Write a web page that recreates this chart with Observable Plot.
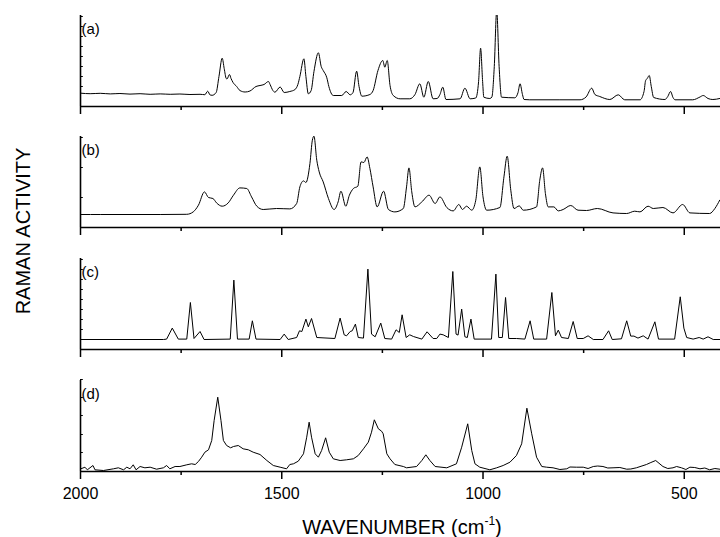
<!DOCTYPE html>
<html>
<head>
<meta charset="utf-8">
<script src="https://cdn.jsdelivr.net/npm/d3@7"></script>
<script src="https://cdn.jsdelivr.net/npm/@observablehq/plot@0.6"></script>
<style>
  html, body { margin: 0; padding: 0; background: #fff; }
  body { width: 720px; height: 537px; overflow: hidden; position: relative;
         font-family: "Liberation Sans", Arial, sans-serif; color: #000; }
  .panel { position: absolute; left: 0; }
  #ytitle { position: absolute; left: 23px; top: 231px; transform: translate(-50%, -50%) rotate(-90deg);
            font-size: 20px; line-height: 20px; white-space: nowrap; }
  #xtitle { position: absolute; left: 402px; top: 517px; transform: translateX(-50%);
            font-size: 20px; line-height: 20px; white-space: nowrap; }
  #xtitle sup { font-size: 12px; vertical-align: baseline; position: relative; top: -9px; }
</style>
</head>
<body>
<div id="chart"></div>
<div id="ytitle">RAMAN ACTIVITY</div>
<div id="xtitle">WAVENUMBER (cm<sup>-1</sup>)</div>
<script>
// ---- data (wavenumber in cm^-1, intensity in arbitrary units) ----
const panelLabels = ["(a)", "(b)", "(c)", "(d)"];
const majorTicks = [2000, 1500, 1000, 500];
const minorTicks = [1750, 1250, 750];
const tickLabels = ["2000", "1500", "1000", "500"];

const aWave = [1999,1976,1951,1926,1902,1877,1852,1827,1802,1777,1753,1728,1703,1691,1684,1678,1673,1663,1656,1648,1643,1638,1636,1630,1626,1621,1612,1604,1591,1579,1564,1554,1544,1533,1529,1522,1517,1504,1494,1480,1467,1460,1455,1445,1440,1434,1427,1420,1409,1402,1397,1388,1383,1372,1351,1340,1330,1323,1314,1308,1301,1281,1273,1261,1249,1244,1238,1231,1223,1206,1182,1169,1157,1147,1136,1124,1114,1107,1100,1092,1057,1045,1032,1018,1011,1006,1001,998,983,978,972,966,960,954,921,913,908,902,898,884,809,759,744,730,722,710,685,664,648,610,600,596,592,587,582,576,548,541,534,528,523,479,461,453,441,429,412];
const aInt  = [13.3,12.8,13.2,12.6,13.0,12.4,12.8,12.2,12.6,12.2,12.5,12.0,12.2,11.8,15.3,11.5,11.2,14,30,48.3,38,28,27.5,32,28,24,20,16,14.5,15.5,20,21,22,25,22,16,14.3,19.5,14,15,17,22,30,47.7,30,12.7,16,35,53.7,40,36,28.7,20,11,11,15,11.7,14,35.3,20,10.3,12,16,36,46,39.3,46,21,11,7.7,7.7,12,22.7,9.3,25,7.7,8,12,19.3,7,7.7,18.3,7.7,8.5,25,58.3,25,9.3,8,9.5,40,96,40,9.3,8.7,14,22.7,12,7,6.7,6.7,6.7,9.5,18.3,12,10,7,11.7,6.7,6.7,15,26,28,31,20,9,7,10,15,9,6.7,6.7,9.5,11,8,7,8];

const bWave = [1999,1951,1877,1802,1736,1720,1707,1692,1682,1671,1662,1648,1633,1620,1604,1587,1575,1562,1546,1513,1480,1463,1455,1446,1440,1430,1424,1420,1413,1407,1397,1384,1370,1360,1353,1341,1332,1322,1311,1303,1296,1288,1281,1273,1263,1247,1235,1219,1198,1190,1184,1177,1169,1152,1134,1119,1107,1090,1074,1060,1051,1041,1028,1018,1008,1000,991,958,948,940,931,923,910,900,867,859,852,845,838,824,813,801,782,764,743,716,677,643,623,610,590,577,553,528,504,486,437,424,412];
const bInt  = [13,13,13,13,13.2,15.6,22.3,35.6,30,29,24.6,21.3,24.6,32.3,39.6,39,30.6,21.3,18,19,18.6,24,40.6,46.6,45,64,87.3,91.3,67.3,55.6,45.6,29,18,25.6,36.3,21.3,32.3,39,41.3,65.6,65,70.6,59,40.6,20.6,36.3,18,15.6,19,40.6,59.6,35.6,20.6,25.6,32.3,24,30.6,20,16.6,23,18,21.3,17.3,27.3,60.6,30.6,17.3,20,50.6,71.3,37.3,19,21.6,17.3,20.6,47.3,59.6,34,20.6,20.6,16.6,18,22,17.3,17,19,14.6,14,16.3,15.6,21.3,19,20,14.6,23,14.6,14,19,27.3];

const cWave = [1999,1794,1786,1772,1757,1736,1727,1718,1703,1693,1628,1619,1610,1581,1573,1564,1504,1494,1484,1463,1456,1450,1440,1434,1426,1413,1368,1355,1345,1339,1330,1325,1317,1310,1297,1286,1277,1268,1254,1244,1227,1216,1208,1201,1191,1182,1173,1152,1139,1124,1115,1107,1099,1086,1075,1067,1062,1053,1045,1039,1030,1022,979,968,961,952,944,936,917,896,883,874,842,829,820,813,805,788,776,766,751,739,726,702,688,679,656,643,633,625,615,602,590,573,564,524,510,501,494,478,463,453,441,428,412];
const cInt  = [10,10,10.4,21.4,10.4,10.4,47,11,18,10,10.4,69.4,10.4,10.4,28.7,10.4,10,15.4,10,12,18.7,18,30.4,22.7,31,12,11,31.4,14.7,13.7,18,18.7,25.4,12,11.4,80.4,15.4,12.7,26.4,11,10.4,19.7,17,34.7,12,14.7,13,10.4,17.7,11,11,15.4,14.7,12,78,15.4,14.4,40.4,12.7,12,30.4,10.4,10.4,75.4,12,12,52,11,11,10.4,28.7,10.4,10.4,57,13.7,19.4,12,11,28,11,11,13.7,10,10,18.7,10,10.7,28.7,13.4,13.4,11.4,13.7,10.4,27.7,10.4,10.4,52.7,21.4,12,10.4,12,10.4,12.7,10,10];

const dWave = [1999,1989,1983,1969,1964,1943,1918,1906,1893,1885,1877,1869,1862,1852,1840,1827,1811,1794,1786,1778,1765,1753,1736,1724,1715,1707,1699,1691,1682,1674,1668,1659,1651,1645,1637,1627,1620,1608,1596,1583,1571,1554,1537,1521,1504,1488,1480,1471,1459,1446,1438,1432,1426,1417,1409,1401,1391,1382,1372,1355,1339,1322,1310,1297,1285,1277,1270,1260,1252,1248,1239,1231,1219,1198,1190,1165,1152,1142,1132,1119,1090,1066,1053,1038,1028,1020,1008,983,966,950,933,917,904,891,879,867,854,842,826,809,792,784,768,751,739,726,715,702,690,677,660,643,633,619,594,583,571,553,541,528,519,507,496,486,474,461,449,437,424,412];
const dInt  = [2.7,4.3,1.7,6,1.7,1,2.7,3.7,1.7,4.3,2.7,6.7,1.7,5,3.7,4.3,2.3,3.7,6,2.7,5,5,6.7,7.7,7,10,14.3,19.3,21.7,31,51,74.3,51,31,26,23.7,25,26,22.7,21.7,19.3,17,11,6,4.3,2.7,7,7.7,10.3,17.7,34.3,49.3,34.3,17.7,14.3,21,33.7,19.3,12.7,11,11.7,12.7,16,22.7,29.3,39.3,51.7,42.7,40.3,37.7,17.7,12.7,7,5,3.7,5,11,16.7,11,5,3.7,7.7,24.3,47.7,21,7.7,4.3,1.7,3.7,6,9.3,16,27.7,63.3,37.7,14.3,5,4.3,3.7,2,2.7,4.5,4.3,4.3,3,5,5.5,5,3.5,3.7,4,2.3,2.5,3.7,7,9,11,5,3,3.7,5,3.7,2,4.3,4,2.7,3.5,1.7,3,2.3];

const yTicksA = [20, 30, 40, 50, 60, 70, 80, 90];
const yTicksB = [30, 60, 90];
const yTicksC = [20, 30, 40, 50, 60, 70, 80, 90];
const yTicksD = [19, 37, 56, 74, 92];

// ---- drawing ----
const FONT = '"Liberation Sans", Arial, sans-serif';

function panel(wave, vals, label, yTicks, curve, last) {
  const data = wave.map((w, i) => ({w, v: vals[i]}));
  return Plot.plot({
    width: 720,
    height: last ? 146 : 121,
    marginLeft: 80, marginRight: 0, marginTop: 15, marginBottom: last ? 40 : 15,
    style: {fontFamily: FONT, fontSize: "16px", color: "black", background: "transparent", overflow: "visible"},
    x: {
      domain: [2000, 410],
      axis: last ? "bottom" : null,
      ticks: majorTicks,
      tickSize: 0,
      tickPadding: 16,
      tickFormat: d => tickLabels[majorTicks.indexOf(d)],
      label: null
    },
    y: {domain: [0, 91], axis: null},
    marks: [
      Plot.ruleY(yTicks, {x1: 2000, x2: 1993, stroke: "black", strokeWidth: 1}),
      Plot.ruleX(majorTicks, {y1: 0, y2: -8, stroke: "black", strokeWidth: 1.5}),
      Plot.ruleX(minorTicks, {y1: 0, y2: -4, stroke: "black", strokeWidth: 1.5}),
      Plot.line(data, {x: "w", y: "v", curve, stroke: "black", strokeWidth: 1, clip: true}),
      Plot.ruleY([0], {stroke: "black", strokeWidth: 1.6}),
      Plot.ruleX([2000], {stroke: "black", strokeWidth: 1.6}),
      Plot.text([label], {text: d => d, frameAnchor: "top-left", dx: 1, dy: 14, lineAnchor: "middle",
                          textAnchor: "start", fontSize: 15, fill: "black"})
    ]
  });
}

const chart = document.getElementById("chart");
const specs = [
  [aWave, aInt, panelLabels[0], yTicksA, "monotone-x", false, 0],
  [bWave, bInt, panelLabels[1], yTicksB, "monotone-x", false, 121],
  [cWave, cInt, panelLabels[2], yTicksC, "linear", false, 243],
  [dWave, dInt, panelLabels[3], yTicksD, "linear", true, 365]
];
for (const [w, v, lab, yt, curve, last, top] of specs) {
  const svg = panel(w, v, lab, yt, curve, last);
  svg.classList.add("panel");
  svg.style.top = top + "px";
  chart.appendChild(svg);
}
</script>
</body>
</html>
